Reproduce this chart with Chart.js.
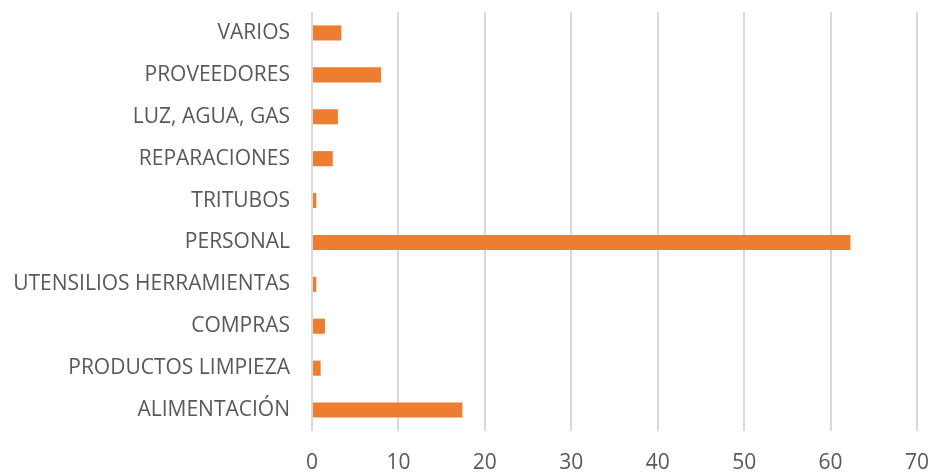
<!DOCTYPE html>
<html>
<head>
<meta charset="utf-8">
<script src="https://cdn.jsdelivr.net/npm/chart.js@4/dist/chart.umd.min.js"></script>
<style>
  html, body { margin:0; padding:0; background:#fff; }
  #wrap { width:933px; height:473px; }
</style>
</head>
<body>
<div id="wrap"><canvas id="chartGastos"></canvas></div>
<script>
// --- Datos ---
const categorias = ['VARIOS','PROVEEDORES','LUZ, AGUA, GAS','REPARACIONES','TRITUBOS','PERSONAL','UTENSILIOS HERRAMIENTAS','COMPRAS','PRODUCTOS LIMPIEZA','ALIMENTACIÓN'];
const valores = [3.4, 8.0, 3.0, 2.4, 0.5, 62.3, 0.5, 1.5, 1.0, 17.4];
const ticksX = [0,10,20,30,40,50,60,70];

const naranja = '#ED7D31';
const gris = '#595959';

const ctx = document.getElementById('chartGastos').getContext('2d');
new Chart(ctx, {
  type:'bar',
  data:{
    labels: categorias,
    datasets:[{
      data: valores,
      backgroundColor: naranja,
      barPercentage: 0.36,
      categoryPercentage: 1
    }]
  },
  options:{
    indexAxis:'y',
    responsive:true,
    maintainAspectRatio:false,
    animation:false,
    layout:{ padding:{ top:12, right:16, bottom:0, left:0 } },
    plugins:{ legend:{display:false}, tooltip:{enabled:false} },
    scales:{
      x:{
        min:0, max:70,
        afterBuildTicks: s => { s.ticks = ticksX.map(v=>({value:v})); },
        grid:{ color:'#D9D9D9', lineWidth:2, drawTicks:false },
        border:{ display:false },
        ticks:{ color:gris, padding:19, font:{ family:'Open Sans', size:21 } },
        afterFit: s => { s.height = 42; s.paddingLeft = 0; s.paddingRight = 0; }
      },
      y:{
        grid:{ display:false, drawTicks:false },
        border:{ display:false },
        ticks:{ color:gris, padding:22, font:{ family:'Open Sans', size:21 } },
        afterFit: s => { s.width = 312; s.paddingTop = 0; s.paddingBottom = 0; }
      }
    }
  }
});
</script>
</body>
</html>
